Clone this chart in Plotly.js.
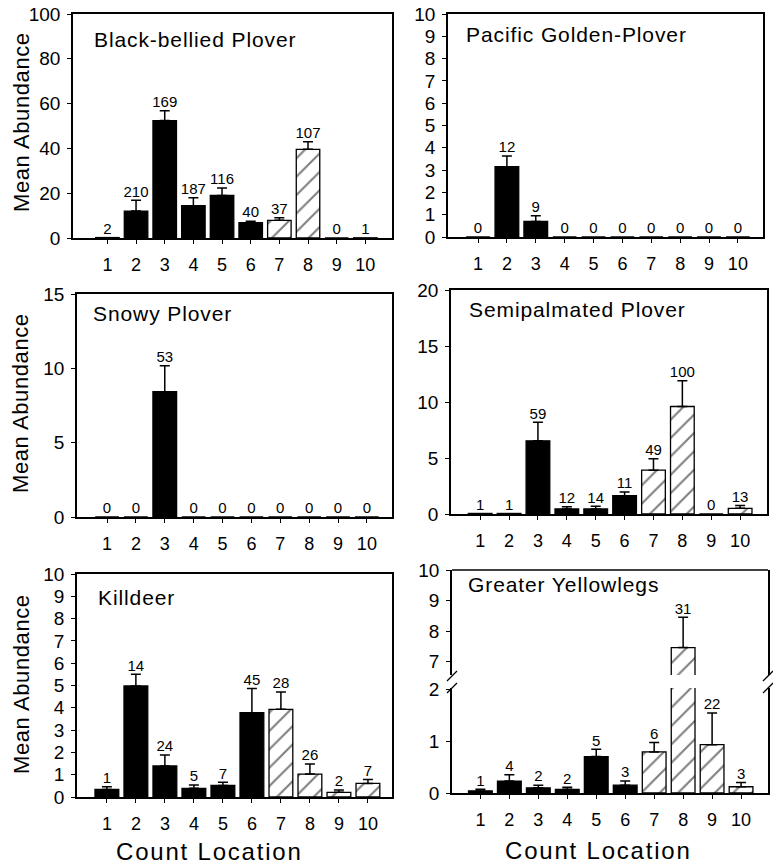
<!DOCTYPE html>
<html>
<head>
<meta charset="utf-8">
<script src="https://cdn.plot.ly/plotly-3.0.1.min.js"></script>
<style>html,body{margin:0;padding:0;background:#fff}</style>
</head>
<body>
<div id="chart" style="width:773px;height:865px"></div>
<script>
// ---------------- data ----------------
const locations = [1, 2, 3, 4, 5, 6, 7, 8, 9, 10];
const tickLabels = ['1', '2', '3', '4', '5', '6', '7', '8', '9', '10'];

const blackBelliedMean = [0.2, 12.0, 52.4, 14.4, 19.0, 6.8, 7.9, 39.6, 0, 0.1];
const blackBelliedErr  = [null, 4.8, 4.4, 3.6, 3.3, 0.7, 1.1, 3.4, null, null];
const blackBelliedN    = [2, 210, 169, 187, 116, 40, 37, 107, 0, 1];

const pacificMean = [0, 3.15, 0.7, 0, 0, 0, 0, 0, 0, 0];
const pacificErr  = [null, 0.48, 0.25, null, null, null, null, null, null, null];
const pacificN    = [0, 12, 9, 0, 0, 0, 0, 0, 0, 0];

const snowyMean = [0, 0, 8.43, 0, 0, 0, 0, 0, 0, 0];
const snowyErr  = [null, null, 1.75, null, null, null, null, null, null, null];
const snowyN    = [0, 0, 53, 0, 0, 0, 0, 0, 0, 0];

const semipalmatedMean = [0.05, 0.05, 6.53, 0.45, 0.45, 1.63, 3.91, 9.6, 0, 0.51];
const semipalmatedErr  = [null, null, 1.66, 0.2, 0.24, 0.33, 1.03, 2.3, null, 0.24];
const semipalmatedN    = [1, 1, 59, 12, 14, 11, 49, 100, 0, 13];

const killdeerMean = [0.34, 4.98, 1.39, 0.39, 0.52, 3.78, 3.93, 1.03, 0.21, 0.61];
const killdeerErr  = [0.12, 0.52, 0.49, 0.15, 0.14, 1.09, 0.78, 0.45, 0.1, 0.18];
const killdeerN    = [1, 14, 24, 5, 7, 45, 28, 26, 2, 7];

const yellowlegsMean = [0.04, 0.23, 0.1, 0.07, 0.7, 0.15, 0.79, 7.46, 0.93, 0.12];
const yellowlegsErr  = [0.03, 0.12, 0.05, 0.04, 0.14, 0.08, 0.18, 0.99, 0.61, 0.08];
const yellowlegsN    = [1, 4, 2, 2, 5, 3, 6, 31, 22, 3];

// locations 7-10 are drawn hatched, 1-6 solid black
const hatchedLocations = [7, 8, 9, 10];

// ---------------- layout helpers ----------------
const FONT = 'Liberation Sans, Arial, Helvetica, sans-serif';
const W = 773, H = 865;
const fx = p => p / W;
const fy = p => 1 - p / H;
const spaced = (t, s) => '<span style="letter-spacing:' + s + 'px">' + t + '</span>';

const panels = [
  {title: 'Black-bellied Plover', mean: blackBelliedMean, err: blackBelliedErr, n: blackBelliedN, id: '',
   xPx: [73, 392], yPx: [14, 238], xRange: [-0.2, 10.93], yRange: [0, 100], dtick: 20, titlePx: [92, 39]},
  {title: 'Pacific Golden-Plover', mean: pacificMean, err: pacificErr, n: pacificN, id: '2',
   xPx: [448, 763], yPx: [14, 237], xRange: [-0.04, 10.87], yRange: [0, 10], dtick: 1, titlePx: [464, 34.5]},
  {title: 'Snowy Plover', mean: snowyMean, err: snowyErr, n: snowyN, id: '3',
   xPx: [77, 392], yPx: [294, 517], xRange: [-0.04, 10.87], yRange: [0, 15], dtick: 5, titlePx: [91, 314]},
  {title: 'Semipalmated Plover', mean: semipalmatedMean, err: semipalmatedErr, n: semipalmatedN, id: '4',
   xPx: [451, 767], yPx: [290, 514], xRange: [-0.01, 10.93], yRange: [0, 20], dtick: 5, titlePx: [467, 310]},
  {title: 'Killdeer', mean: killdeerMean, err: killdeerErr, n: killdeerN, id: '5',
   xPx: [77, 392], yPx: [574, 797], xRange: [-0.03, 10.83], yRange: [0, 10], dtick: 1, titlePx: [96, 597.5]},
  {title: 'Greater Yellowlegs', mean: yellowlegsMean, err: yellowlegsErr, n: yellowlegsN, id: '6',
   xPx: [452, 768], yPx: [688, 793], xRange: [0.02, 10.93], yRange: [0, 2.02], dtick: 1, titlePx: [466, 584.5],
   upper: {id: '7', yPx: [570, 675], yRange: [6.56, 10], tickvals: [7, 8, 9, 10]}}
];

const traces = [];
const layout = {
  width: W, height: H,
  margin: {l: 0, r: 0, t: 0, b: 0},
  paper_bgcolor: 'white', plot_bgcolor: 'white',
  showlegend: false, barmode: 'overlay',
  font: {family: FONT, color: 'black'},
  annotations: [], shapes: []
};

function barTrace(p, xa, ya, errFilter, hatched) {
  const idx = locations.map((l, i) => i).filter(i => hatchedLocations.includes(locations[i]) === hatched);
  const errPlus = idx.map(i => (p.err[i] == null || !errFilter(i)) ? NaN : p.err[i]);
  const errMinus = errPlus.map(e => isNaN(e) ? NaN : 0);
  const marker = hatched
    ? {color: 'white', line: {color: 'black', width: 1.3},
       pattern: {shape: '/', fillmode: 'overlay', fgcolor: 'black', size: 13, solidity: 0.16}}
    : {color: 'black', line: {color: 'black', width: 1.3}};
  return {
    type: 'bar', x: idx.map(i => locations[i]), y: idx.map(i => p.mean[i]), xaxis: xa, yaxis: ya,
    width: 0.82, opacity: 1, marker: marker,
    error_y: {type: 'data', symmetric: false, array: errPlus, arrayminus: errMinus, color: 'black', thickness: 1.5, width: 5},
    hoverinfo: 'skip'
  };
}

function labelTrace(p, xa, ya, filter) {
  const xs = [], ys = [], ts = [];
  locations.forEach((l, i) => {
    if (!filter(i)) return;
    xs.push(l);
    ys.push(p.mean[i] + (p.err[i] == null ? 0 : p.err[i]));
    ts.push(String(p.n[i]));
  });
  return {
    type: 'scatter', mode: 'text', x: xs, y: ys, text: ts, xaxis: xa, yaxis: ya,
    textposition: 'top center', textfont: {family: FONT, size: 15, color: 'black'},
    cliponaxis: false, hoverinfo: 'skip'
  };
}

function yAxisBase(extra) {
  return Object.assign({
    ticks: 'outside', ticklen: 4, tickwidth: 1.2, tickcolor: 'black',
    ticklabelstandoff: 3,
    showline: true, linewidth: 1.5, linecolor: 'black', mirror: true,
    showgrid: false, zeroline: false, fixedrange: true,
    tickfont: {family: FONT, size: 19, color: 'black'}
  }, extra);
}

panels.forEach(p => {
  const xa = 'x' + p.id, ya = 'y' + p.id;
  const brk = p.upper ? p.yRange[1] : Infinity;

  traces.push(barTrace(p, xa, ya, i => p.mean[i] <= brk, false));
  traces.push(barTrace(p, xa, ya, i => p.mean[i] <= brk, true));
  traces.push(labelTrace(p, xa, ya, i => p.mean[i] + (p.err[i] || 0) <= brk));

  layout['xaxis' + p.id] = {
    domain: [fx(p.xPx[0]), fx(p.xPx[1])], range: p.xRange, anchor: ya,
    tickmode: 'array', tickvals: locations, ticktext: tickLabels,
    ticks: 'outside', ticklen: 4, tickwidth: 1.2, tickcolor: 'black',
    ticklabelstandoff: 6,
    showline: true, linewidth: 1.5, linecolor: 'black', mirror: !p.upper,
    showgrid: false, zeroline: false, fixedrange: true,
    tickfont: {family: FONT, size: 18, color: 'black'}
  };
  layout['yaxis' + p.id] = yAxisBase({
    domain: [fy(p.yPx[1]), fy(p.yPx[0])], range: p.yRange, anchor: xa, tick0: 0, dtick: p.dtick
  });

  if (p.upper) {
    const u = p.upper;
    const yu = 'y' + u.id;
    traces.push(barTrace(p, xa, yu, i => p.mean[i] > brk, false));
    traces.push(barTrace(p, xa, yu, i => p.mean[i] > brk, true));
    traces.push(labelTrace(p, xa, yu, i => p.mean[i] + (p.err[i] || 0) > brk));
    layout['yaxis' + u.id] = yAxisBase({
      domain: [fy(u.yPx[1]), fy(u.yPx[0])], range: u.yRange, anchor: xa,
      tickmode: 'array', tickvals: u.tickvals
    });
    // top frame line of the upper segment
    layout.shapes.push({type: 'line', xref: 'paper', yref: 'paper',
      x0: fx(p.xPx[0]), x1: fx(p.xPx[1]), y0: fy(u.yPx[0]), y1: fy(u.yPx[0]),
      line: {color: 'black', width: 1.5}});
    // axis-break marks on both sides
    [p.xPx[0], p.xPx[1]].forEach(xp => {
      [[u.yPx[1] + 6, u.yPx[1] - 4], [p.yPx[0] + 5, p.yPx[0] - 5]].forEach(([y0, y1]) => {
        layout.shapes.push({type: 'line', xref: 'paper', yref: 'paper',
          x0: fx(xp - 5), x1: fx(xp + 5), y0: fy(y0), y1: fy(y1),
          line: {color: 'black', width: 1.3}});
      });
    });
  }

  layout.annotations.push({
    text: spaced(p.title, 0.9), xref: 'paper', yref: 'paper',
    x: fx(p.titlePx[0]), y: fy(p.titlePx[1]), xanchor: 'left', yanchor: 'middle',
    showarrow: false, font: {family: FONT, size: 21, color: 'black'}
  });
});

// axis titles
[122, 403, 684].forEach(yp => {
  layout.annotations.push({text: spaced('Mean Abundance', 0.6), xref: 'paper', yref: 'paper', x: fx(21), y: fy(yp),
    xanchor: 'center', yanchor: 'middle', textangle: -90, showarrow: false,
    font: {family: FONT, size: 22, color: 'black'}});
});
[[209, 851], [598, 850]].forEach(([xp, yp]) => {
  layout.annotations.push({text: spaced('Count Location', 1.8), xref: 'paper', yref: 'paper', x: fx(xp), y: fy(yp),
    xanchor: 'center', yanchor: 'middle', showarrow: false,
    font: {family: FONT, size: 24, color: 'black'}});
});

Plotly.newPlot('chart', traces, layout, {displayModeBar: false});
</script>
</body>
</html>
